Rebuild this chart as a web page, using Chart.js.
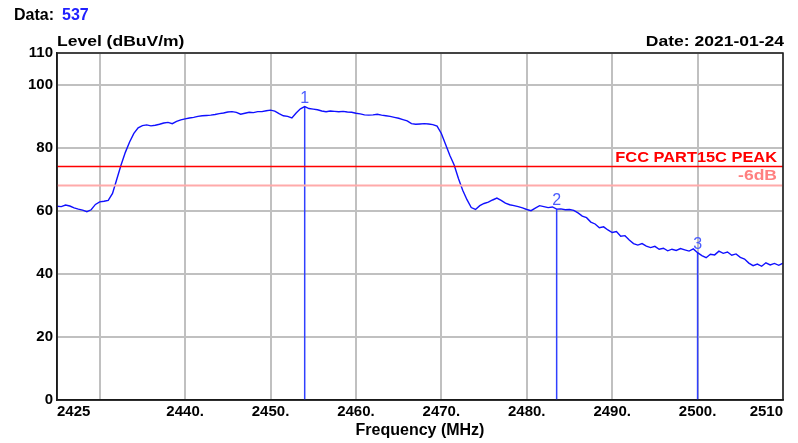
<!DOCTYPE html>
<html>
<head>
<meta charset="utf-8">
<script src="https://cdn.jsdelivr.net/npm/chart.js@4.4.1/dist/chart.umd.min.js"></script>
<style>
  html, body { margin: 0; padding: 0; background: #fff; }
  #wrap { width: 798px; height: 443px; }
</style>
</head>
<body>
<div id="wrap"><canvas id="chart" width="798" height="443"></canvas></div>
<script>
// Sweep: start freq / step in MHz, levels in dBuV/m
const sweepStart = 2425;
const sweepStep = 0.5;
const levels = [
  61.4, 61.3, 61.8, 61.5, 60.9, 60.5, 60.2, 59.7, 60.3, 62.0,
  62.8, 63.0, 63.3, 65.5, 70.0, 74.5, 78.5, 81.8, 84.5, 86.3,
  87.0, 87.2, 86.9, 87.1, 87.4, 87.8, 88.0, 87.6, 88.3, 88.8,
  89.1, 89.4, 89.6, 89.9, 90.1, 90.2, 90.3, 90.5, 90.8, 91.0,
  91.3, 91.4, 91.2, 90.6, 90.9, 91.2, 91.1, 91.4, 91.4, 91.7,
  91.9, 91.6, 90.8, 90.1, 89.9, 89.4, 91.0, 92.3, 93.0, 92.4,
  92.2, 92.0, 91.6, 91.4, 91.6, 91.5, 91.4, 91.5, 91.3, 91.2,
  90.9, 90.7, 90.4, 90.3, 90.4, 90.6, 90.3, 90.1, 89.9, 89.6,
  89.3, 88.9, 88.5, 87.6, 87.4, 87.5, 87.6, 87.5, 87.3, 86.8,
  84.5, 81.0, 77.5, 74.5, 70.2, 66.5, 63.5, 61.0, 60.4, 61.6,
  62.3, 62.7, 63.4, 64.0, 63.3, 62.4, 61.9, 61.6, 61.3, 60.9,
  60.4, 60.0, 60.8, 61.6, 61.3, 61.0, 61.2, 60.5, 60.6, 60.3,
  60.4, 60.1, 59.3, 58.3, 57.8, 56.4, 55.8, 54.6, 54.9, 53.9,
  53.1, 53.4, 51.9, 52.1, 50.7, 49.6, 49.1, 49.6, 48.8, 48.3,
  48.7, 47.8, 48.1, 47.3, 47.8, 47.4, 48.0, 47.6, 47.2, 47.9,
  46.7, 45.8, 45.1, 46.2, 46.0, 47.2, 46.5, 46.9, 45.9, 46.3,
  45.2, 44.7, 43.4, 42.6, 43.1, 42.4, 43.5, 42.8, 43.3, 42.7,
  43.4
];

// markers
const markerNames = ['1', '2', '3'];
const markerFreqs = [2454.0, 2483.5, 2500.0];
const markerLevels = [93.0, 60.5, 46.7];

// limit lines
const limitNames = ['FCC PART15C PEAK', '-6dB'];
const limitLevels = [74, 68];
const limitColors = ['#ff0000', '#ffaaaa'];
const limitTextColors = ['#ff0000', '#ff8080'];

// axes
const xMin = 2425, xMax = 2510;
const xTicks = [2425, 2430, 2440, 2450, 2460, 2470, 2480, 2490, 2500, 2510];
const xTickLabels = ['2425', '', '2440.', '2450.', '2460.', '2470.', '2480.', '2490.', '2500.', '2510'];
const yTicks = [0, 20, 40, 60, 80, 100, 110];

const fontFam = '"Liberation Sans", Arial, sans-serif';

const traceData = levels.map((v, i) => ({ x: sweepStart + i * sweepStep, y: v }));

const datasets = [];
limitLevels.forEach((lv, i) => {
    datasets.push({
        data: [{ x: xMin, y: lv }, { x: xMax, y: lv }],
        borderColor: limitColors[i],
        borderWidth: i === 0 ? 1.5 : 2,
        pointRadius: 0
    });
});
datasets.push({
    data: traceData,
    borderColor: '#1010ff',
    borderWidth: 1.4,
    pointRadius: 0
});
markerFreqs.forEach((f, i) => {
    datasets.push({
        data: [{ x: f, y: markerLevels[i] }, { x: f, y: 0 }],
        borderColor: '#3040ff',
        borderWidth: 1.5,
        pointRadius: 0
    });
});

// stretched text, the source image is wider than normal
function stretchText(ctx, text, x, y, align, sx) {
    ctx.save();
    const w = ctx.measureText(text).width * sx;
    let left = x;
    if (align === 'right') left = x - w;
    else if (align === 'center') left = x - w / 2;
    ctx.translate(left, y);
    ctx.scale(sx, 1);
    ctx.textAlign = 'left';
    ctx.fillText(text, 0, 0);
    ctx.restore();
}

const extraText = {
    id: 'extraText',
    afterDatasetsDraw(chart) {
        const { ctx, chartArea, scales } = chart;
        ctx.save();
        // frame
        ctx.strokeStyle = '#1a1a1a';
        ctx.lineWidth = 1.5;
        ctx.strokeRect(chartArea.left, chartArea.top, chartArea.right - chartArea.left, chartArea.bottom - chartArea.top);

        ctx.textBaseline = 'alphabetic';
        // header
        ctx.font = 'bold 16px ' + fontFam;
        ctx.fillStyle = '#000';
        ctx.textAlign = 'left';
        ctx.fillText('Data:', 14, 20);
        ctx.fillStyle = '#2020ff';
        ctx.fillText('537', 62, 20);

        ctx.font = 'bold 14px ' + fontFam;
        ctx.fillStyle = '#000';
        stretchText(ctx, 'Level (dBuV/m)', 57, 46, 'left', 1.25);
        stretchText(ctx, 'Date: 2021-01-24', 784, 46, 'right', 1.25);

        // limit line names
        limitNames.forEach((name, i) => {
            const y = scales.y.getPixelForValue(limitLevels[i]) - 5;
            ctx.fillStyle = limitTextColors[i];
            stretchText(ctx, name, 777, y, 'right', i === 0 ? 1.17 : 1.25);
        });

        // marker numbers
        ctx.font = '16px ' + fontFam;
        ctx.fillStyle = '#4a5cff';
        ctx.textAlign = 'center';
        markerNames.forEach((n, i) => {
            const x = scales.x.getPixelForValue(markerFreqs[i]);
            const y = scales.y.getPixelForValue(markerLevels[i]) - 4;
            ctx.fillText(n, x, y);
        });
        ctx.restore();
    }
};

new Chart(document.getElementById('chart'), {
    type: 'line',
    data: { datasets: datasets },
    options: {
        responsive: false,
        animation: false,
        layout: { padding: { top: 53, right: 15, left: 0, bottom: 0 } },
        plugins: {
            legend: { display: false },
            tooltip: { enabled: false }
        },
        scales: {
            x: {
                type: 'linear',
                min: xMin,
                max: xMax,
                afterBuildTicks: (scale) => { scale.ticks = xTicks.map(v => ({ value: v })); },
                afterFit: (scale) => { scale.height = 43; },
                ticks: {
                    autoSkip: false,
                    maxRotation: 0,
                    align: 'inner',
                    padding: 3,
                    color: '#000',
                    font: { family: fontFam, size: 15, weight: 'bold' },
                    callback: (v) => xTickLabels[xTicks.indexOf(v)]
                },
                grid: { color: '#c0c0c0', lineWidth: 2, drawTicks: false },
                border: { display: true, color: '#1a1a1a', width: 1.5 },
                title: {
                    display: true,
                    text: 'Frequency (MHz)',
                    color: '#000',
                    font: { family: fontFam, size: 16, weight: 'bold' },
                    padding: { top: 0, bottom: 3 }
                }
            },
            y: {
                min: 0,
                max: 110,
                afterBuildTicks: (scale) => { scale.ticks = yTicks.map(v => ({ value: v })); },
                afterFit: (scale) => { scale.width = 57; },
                ticks: {
                    autoSkip: false,
                    padding: 4,
                    color: '#000',
                    font: { family: fontFam, size: 15, weight: 'bold' }
                },
                grid: { color: '#c0c0c0', lineWidth: 2, drawTicks: false },
                border: { display: true, color: '#1a1a1a', width: 1.5 }
            }
        }
    },
    plugins: [extraText]
});
</script>
</body>
</html>
